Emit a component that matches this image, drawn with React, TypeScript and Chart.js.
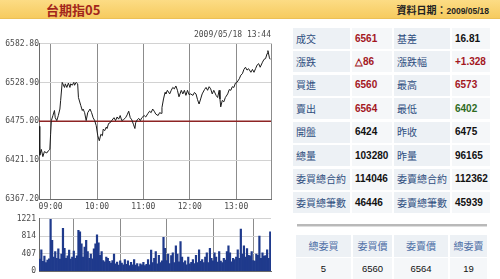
import React, { useEffect, useRef } from "react";
import { Chart, registerables } from "chart.js";

Chart.register(...registerables);

// Intraday session of the TAIEX May futures, 2009/05/18
const sessionOpen = "08:45";
const sessionMinutes = 300;
const hourLabels = ["09:00", "10:00", "11:00", "12:00", "13:00"];
const updateStamp = "2009/05/18 13:44";

const priceTimes = [
  "08:45", "08:46", "08:48", "08:50", "08:52", "08:55", "08:57", "08:59", "09:00", "09:01",
  "09:03", "09:05", "09:06", "09:08", "09:10", "09:12", "09:13", "09:15", "09:18", "09:19",
  "09:21", "09:23", "09:25", "09:26", "09:28", "09:30", "09:31", "09:33", "09:35", "09:36",
  "09:39", "09:41", "09:42", "09:44", "09:46", "09:48", "09:51", "09:53", "09:55", "09:57",
  "09:59", "10:01", "10:03", "10:05", "10:07", "10:08", "10:10", "10:12", "10:13", "10:15",
  "10:17", "10:19", "10:22", "10:24", "10:26", "10:28", "10:30", "10:32", "10:34", "10:37",
  "10:39", "10:41", "10:43", "10:45", "10:47", "10:49", "10:50", "10:52", "10:54", "10:56",
  "10:58", "11:01", "11:03", "11:06", "11:08", "11:10", "11:12", "11:14", "11:16", "11:19",
  "11:21", "11:23", "11:24", "11:26", "11:28", "11:29", "11:31", "11:34", "11:36", "11:38",
  "11:40", "11:42", "11:44", "11:46", "11:49", "11:51", "11:53", "11:55", "11:57", "11:59",
  "12:01", "12:04", "12:06", "12:08", "12:10", "12:12", "12:14", "12:16", "12:19", "12:21",
  "12:23", "12:25", "12:27", "12:29", "12:31", "12:34", "12:36", "12:38", "12:39", "12:40",
  "12:42", "12:44", "12:46", "12:49", "12:51", "12:53", "12:55", "12:57", "12:59", "13:01",
  "13:04", "13:06", "13:08", "13:10", "13:12", "13:14", "13:16", "13:19", "13:21", "13:23",
  "13:25", "13:27", "13:29", "13:31", "13:34", "13:36", "13:38", "13:40", "13:41", "13:43",
  "13:44",
];

const prices = [
  6468, 6428, 6436, 6426, 6433, 6431, 6434, 6436, 6457, 6476,
  6483, 6490, 6480, 6476, 6483, 6492, 6504, 6529, 6522, 6527,
  6522, 6528, 6522, 6527, 6525, 6529, 6525, 6529, 6527, 6508,
  6497, 6490, 6492, 6487, 6476, 6487, 6492, 6487, 6480, 6476,
  6469, 6455, 6448, 6457, 6455, 6464, 6462, 6467, 6465, 6472,
  6473, 6476, 6480, 6476, 6481, 6478, 6483, 6476, 6477, 6480,
  6484, 6489, 6480, 6477, 6471, 6465, 6473, 6477, 6479, 6476,
  6480, 6483, 6481, 6486, 6489, 6487, 6492, 6489, 6485, 6483,
  6487, 6486, 6494, 6506, 6515, 6513, 6518, 6513, 6518, 6522,
  6520, 6524, 6518, 6509, 6518, 6513, 6518, 6511, 6518, 6512,
  6513, 6511, 6515, 6513, 6505, 6499, 6506, 6513, 6519, 6522,
  6518, 6523, 6520, 6513, 6518, 6511, 6508, 6518, 6506, 6495,
  6504, 6502, 6508, 6513, 6519, 6518, 6523, 6522, 6528, 6529,
  6534, 6539, 6541, 6547, 6550, 6546, 6548, 6543, 6547, 6543,
  6548, 6553, 6555, 6550, 6557, 6561, 6562, 6569, 6573, 6563,
  6561,
];

const prevClose = 6475;
const priceAxisTicks = [6367.2, 6421.1, 6475.0, 6528.9, 6582.8];

// Contracts traded per two-minute bin, starting at the open
const volumeBinMinutes = 2;
const volumes = [
  280, 500, 230, 350, 200, 260, 290, 1210, 720, 330,
  460, 300, 520, 280, 400, 1000, 530, 300, 360, 490,
  280, 330, 470, 300, 360, 950, 920, 640, 330, 560,
  720, 460, 300, 400, 290, 520, 640, 850, 660, 370,
  460, 250, 220, 330, 300, 230, 190, 250, 400, 170,
  210, 140, 240, 190, 150, 270, 160, 240, 130, 205,
  150, 270, 140, 180, 110, 170, 150, 205, 130, 160,
  270, 150, 490, 200, 300, 460, 170, 370, 200, 240,
  790, 530, 250, 400, 180, 366, 430, 200, 590, 400,
  220, 690, 330, 200, 240, 150, 330, 170, 205, 270,
  180, 370, 200, 500, 230, 270, 200, 330, 430, 200,
  530, 300, 240, 430, 330, 210, 460, 237, 200, 300,
  260, 460, 590, 430, 220, 300, 270, 330, 500, 300,
  980, 400, 590, 330, 527, 370, 360, 460, 250, 237,
  400, 370, 820, 300, 430, 350, 366, 500, 300, 920,
];
const volumeAxisTicks = [0, 407, 814, 1221];

// Quote board
const boardLabelsLeft = ["成交", "漲跌", "買進", "賣出", "開盤", "總量", "委買總合約", "委買總筆數"];
const boardValuesLeft = ["6561", "△86", "6560", "6564", "6424", "103280", "114046", "46446"];
const boardLabelsRight = ["基差", "漲跌幅", "最高", "最低", "昨收", "昨量", "委賣總合約", "委賣總筆數"];
const boardValuesRight = ["16.81", "+1.328", "6573", "6402", "6475", "96165", "112362", "45939"];
const bookHeaders = ["總委買", "委買價", "委賣價", "總委賣"];
const bookValues = ["5", "6560", "6564", "19"];

const RED = "#a3161e";
const GREEN = "#2e6b1e";
const BLACK = "#111";
const boardColorsLeft = [RED, RED, RED, RED, BLACK, BLACK, BLACK, BLACK];
const boardColorsRight = [BLACK, RED, RED, GREEN, BLACK, BLACK, BLACK, BLACK];

const openMinute = (() => {
  const [h, m] = sessionOpen.split(":").map(Number);
  return h * 60 + m;
})();
const toOffset = (s: string) => {
  const [h, m] = s.split(":").map(Number);
  return h * 60 + m - openMinute;
};
const toClock = (offset: number) => {
  const t = openMinute + offset;
  const h = Math.floor(t / 60);
  const m = t % 60;
  return `${String(h).padStart(2, "0")}:${String(m).padStart(2, "0")}`;
};

const axisFont = { family: "'DejaVu Sans Mono', monospace", size: 8 };
const axisColor = "#4a4a4a";
const hourOffsets = hourLabels.map(toOffset);

function timeScale(showLabels: boolean, height: number) {
  return {
    type: "linear" as const,
    min: 0,
    max: sessionMinutes,
    offset: false,
    afterBuildTicks: (s: any) => {
      s.ticks = [...hourOffsets, sessionMinutes].map((v) => ({ value: v }));
    },
    afterFit: (s: any) => {
      s.height = height;
    },
    grid: { color: "#8c8c8c", lineWidth: 1, drawTicks: false },
    border: { color: "#6a6a6a", width: 1 },
    ticks: {
      display: showLabels,
      font: axisFont,
      color: axisColor,
      padding: 3,
      maxRotation: 0,
      autoSkip: false,
      callback: (v: any) => (hourOffsets.includes(Number(v)) ? toClock(Number(v)) : ""),
    },
  };
}

function PriceChart() {
  const ref = useRef<HTMLCanvasElement>(null);
  useEffect(() => {
    if (!ref.current) return;
    const chart = new Chart(ref.current, {
      type: "line",
      data: {
        datasets: [
          {
            data: priceTimes.map((t, i) => ({ x: toOffset(t), y: prices[i] })),
            borderColor: "#1c1c1c",
            borderWidth: 1,
            pointRadius: 0,
            tension: 0,
          },
          {
            data: [
              { x: 0, y: prevClose },
              { x: sessionMinutes, y: prevClose },
            ],
            borderColor: "#8e2424",
            borderWidth: 1.5,
            pointRadius: 0,
          },
        ],
      },
      options: {
        animation: false,
        responsive: false,
        events: [],
        layout: { padding: { top: 5, right: 9, left: 0, bottom: 0 } },
        plugins: {
          legend: { display: false },
          tooltip: { enabled: false },
          title: {
            display: true,
            text: updateStamp,
            align: "end",
            color: axisColor,
            font: { ...axisFont, weight: "normal" },
            padding: { top: 0, bottom: 4 },
          },
        },
        scales: {
          x: timeScale(true, 16),
          y: {
            min: priceAxisTicks[0],
            max: priceAxisTicks[priceAxisTicks.length - 1],
            afterBuildTicks: (s: any) => {
              s.ticks = priceAxisTicks.map((v) => ({ value: v }));
            },
            afterFit: (s: any) => {
              s.width = 39;
            },
            grid: { color: "#d2d2d2", lineWidth: 1, drawTicks: false },
            border: { color: "#6a6a6a", width: 1 },
            ticks: {
              font: axisFont,
              color: axisColor,
              padding: 0,
              callback: (v: any) => Number(v).toFixed(2),
            },
          },
        },
      },
    });
    return () => chart.destroy();
  }, []);
  return (
    <canvas
      ref={ref}
      width={280}
      height={190}
      style={{ position: "absolute", left: 0, top: 25, width: 280, height: 190 }}
    />
  );
}

function VolumeChart() {
  const ref = useRef<HTMLCanvasElement>(null);
  useEffect(() => {
    if (!ref.current) return;
    const chart = new Chart(ref.current, {
      type: "bar",
      data: {
        datasets: [
          {
            data: volumes.map((v, i) => ({ x: i * volumeBinMinutes + volumeBinMinutes / 2, y: v })),
            backgroundColor: "#1f3a8c",
            borderWidth: 0,
            barPercentage: 1,
            categoryPercentage: 1,
          },
        ],
      },
      options: {
        animation: false,
        responsive: false,
        events: [],
        layout: { padding: { top: 3, right: 9, left: 0, bottom: 2 } },
        plugins: { legend: { display: false }, tooltip: { enabled: false } },
        scales: {
          x: timeScale(false, 0),
          y: {
            min: 0,
            max: volumeAxisTicks[volumeAxisTicks.length - 1],
            afterBuildTicks: (s: any) => {
              s.ticks = volumeAxisTicks.map((v) => ({ value: v }));
            },
            afterFit: (s: any) => {
              s.width = 39;
            },
            grid: { color: "#d2d2d2", lineWidth: 1, drawTicks: false },
            border: { color: "#6a6a6a", width: 1 },
            ticks: {
              font: axisFont,
              color: axisColor,
              padding: 3,
              callback: (v: any) => String(v),
            },
          },
        },
      },
    });
    return () => chart.destroy();
  }, []);
  return (
    <canvas
      ref={ref}
      width={280}
      height={68}
      style={{ position: "absolute", left: 0, top: 211, width: 280, height: 68 }}
    />
  );
}

const cjk = "'Noto Sans CJK TC', 'Noto Sans CJK SC', sans-serif";
const latin = "'Liberation Sans', Arial, sans-serif";

function Cell(props: {
  x: number;
  y: number;
  w: number;
  h: number;
  bg: string;
  children: React.ReactNode;
  center?: boolean;
  style?: React.CSSProperties;
}) {
  const { x, y, w, h, bg, children, center, style } = props;
  return (
    <div
      style={{
        position: "absolute",
        left: x,
        top: y,
        width: w,
        height: h,
        background: bg,
        display: "flex",
        alignItems: "center",
        justifyContent: center ? "center" : "flex-start",
        paddingLeft: center ? 0 : 3,
        boxSizing: "border-box",
        lineHeight: 1,
        whiteSpace: "nowrap",
        ...style,
      }}
    >
      {children}
    </div>
  );
}

export default function App() {
  const rowTop = (i: number) => 28 + i * 23.45;
  const labelBg = "#edf1f5";
  const valueBg = "#f5f7f9";
  const labelStyle: React.CSSProperties = { fontFamily: cjk, fontSize: 10, color: "#2d4d7e" };
  const valueStyle = (c: string): React.CSSProperties => ({
    fontFamily: latin,
    fontSize: 10,
    fontWeight: "bold",
    color: c,
  });
  const bookCols = [
    [296, 55],
    [353, 39],
    [394, 54],
    [450, 37],
  ];
  return (
    <div
      style={{
        position: "absolute",
        left: 0,
        top: 0,
        width: 500,
        height: 279,
        background: "#fff",
        overflow: "hidden",
      }}
    >
      <div
        style={{
          position: "absolute",
          left: 0,
          top: 0,
          width: 500,
          height: 19,
          background: "linear-gradient(#fcdc85, #f6cb5f)",
          borderBottom: "1px solid #ecc056",
          boxSizing: "border-box",
        }}
      >
        <div
          style={{
            position: "absolute",
            left: 46,
            top: 0,
            height: 19,
            lineHeight: "19px",
            fontFamily: cjk,
            fontSize: 13,
            fontWeight: "bold",
            color: "#a3261b",
          }}
        >
          台期指05
        </div>
        <div
          style={{
            position: "absolute",
            right: 11,
            top: 0,
            height: 19,
            lineHeight: "19px",
            fontFamily: cjk,
            fontSize: 10,
            fontWeight: "bold",
            color: "#222",
          }}
        >
          資料日期：<span style={{ fontFamily: latin, fontSize: 8.5 }}>2009/05/18</span>
        </div>
      </div>

      <PriceChart />
      <VolumeChart />

      {boardLabelsLeft.map((label, i) => (
        <React.Fragment key={label}>
          <Cell x={293} y={rowTop(i)} w={57} h={21} bg={labelBg} style={labelStyle}>
            {label}
          </Cell>
          <Cell x={352} y={rowTop(i)} w={40} h={21} bg={valueBg} style={valueStyle(boardColorsLeft[i])}>
            {boardValuesLeft[i]}
          </Cell>
          <Cell x={394} y={rowTop(i)} w={56} h={21} bg={labelBg} style={labelStyle}>
            {boardLabelsRight[i]}
          </Cell>
          <Cell x={452} y={rowTop(i)} w={38} h={21} bg={valueBg} style={valueStyle(boardColorsRight[i])}>
            {boardValuesRight[i]}
          </Cell>
        </React.Fragment>
      ))}

      <div
        style={{
          position: "absolute",
          left: 297,
          top: 224,
          width: 190,
          height: 2,
          background: "#b9b9b9",
          borderBottom: "1px solid #dedede",
        }}
      />

      {bookHeaders.map((h, i) => (
        <React.Fragment key={h}>
          <Cell
            x={bookCols[i][0]}
            y={235}
            w={bookCols[i][1]}
            h={22}
            bg={labelBg}
            center
            style={{ fontFamily: cjk, fontSize: 10, color: "#4d6fa6" }}
          >
            {h}
          </Cell>
          <Cell
            x={bookCols[i][0]}
            y={258}
            w={bookCols[i][1]}
            h={21}
            bg={valueBg}
            center
            style={{ fontFamily: latin, fontSize: 9.5, color: "#111" }}
          >
            {bookValues[i]}
          </Cell>
        </React.Fragment>
      ))}
    </div>
  );
}
